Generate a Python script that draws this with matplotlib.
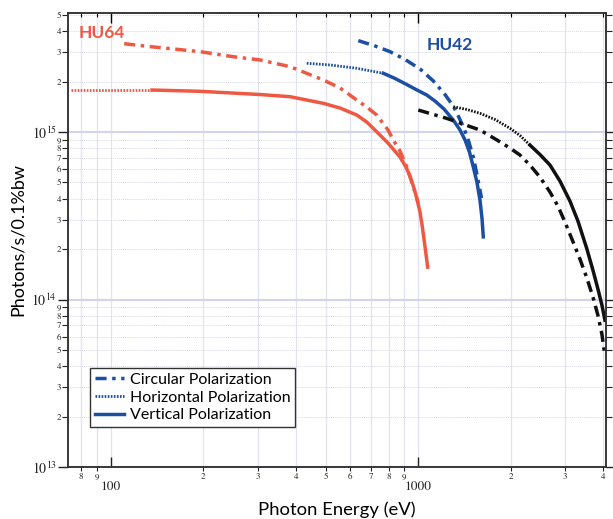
import matplotlib
matplotlib.use("Agg")
import matplotlib.pyplot as plt
from matplotlib.ticker import FixedLocator, FixedFormatter, NullFormatter

plt.rcParams["mathtext.fontset"] = "stix"

# HU64 undulator (red)
hu64_circ_E = [110.5, 134.2, 195.1, 249.8, 305.8, 382.7, 491, 556.6, 630.5, 679.7,
               732.3, 797.3, 829.4, 872, 917, 963, 1000]
hu64_circ_F = [3.37e15, 3.236e15, 3.02e15, 2.818e15, 2.694e15, 2.457e15, 2.046e15,
               1.832e15, 1.554e15, 1.411e15, 1.264e15, 1.028e15, 8.96e14, 7.70e14,
               6.20e14, 4.71e14, 3.75e14]
hu64_horiz_E = [74.3, 136.2]
hu64_horiz_F = [1.782e15, 1.782e15]
hu64_vert_E = [136.2, 195.1, 305.8, 382.7, 491, 556.6, 630.5, 679.7, 732.3, 797.3,
               872, 912, 939.7, 968, 990, 1013, 1032, 1051, 1073]
hu64_vert_F = [1.782e15, 1.751e15, 1.675e15, 1.626e15, 1.484e15, 1.391e15, 1.264e15,
               1.148e15, 1.004e15, 8.59e14, 7.09e14, 6.17e14, 5.46e14, 4.63e14,
               3.98e14, 3.32e14, 2.67e14, 2.08e14, 1.56e14]

# HU42 undulator (blue)
hu42_circ_E = [638.3, 723.3, 809.1, 905.1, 1013, 1119, 1221, 1299, 1349, 1401, 1454,
               1509, 1548, 1587, 1605]
hu42_circ_F = [3.513e15, 3.266e15, 3.02e15, 2.713e15, 2.38e15, 2.018e15, 1.675e15,
               1.43e15, 1.246e15, 1.076e15, 8.96e14, 7.12e14, 5.69e14, 4.50e14, 4.03e14]
hu42_horiz_E = [433.7, 516.4, 630.5, 769.6]
hu42_horiz_F = [2.574e15, 2.515e15, 2.403e15, 2.243e15]
hu42_vert_E = [769.6, 840.3, 917, 990, 1065, 1133, 1212, 1299, 1367, 1419, 1467, 1509,
               1551, 1587, 1611, 1627]
hu42_vert_F = [2.243e15, 2.088e15, 1.922e15, 1.782e15, 1.664e15, 1.532e15, 1.373e15,
               1.18e15, 1.028e15, 8.96e14, 7.59e14, 6.20e14, 5.03e14, 3.92e14,
               3.06e14, 2.367e14]

# third device (black)
blk_circ_E = [1000, 1237, 1587, 1803, 1987, 2141, 2307, 2487, 2681, 2846, 2999, 3160,
              3356, 3535, 3707, 3838, 3955, 4046]
blk_circ_F = [1.353e15, 1.207e15, 1.028e15, 8.96e14, 8.02e14, 7.29e14, 6.35e14,
              5.38e14, 4.38e14, 3.61e14, 2.90e14, 2.293e14, 1.741e14, 1.34e14,
              1.018e14, 8.05e13, 6.20e13, 4.58e13]
blk_horiz_E = [1299, 1440, 1587, 1776, 1987, 2141, 2307]
blk_horiz_F = [1.416e15, 1.363e15, 1.294e15, 1.188e15, 1.052e15, 9.53e14, 8.36e14]
blk_vert_E = [2307, 2487, 2681, 2888, 3113, 3305, 3528, 3698, 3847, 3955, 4046]
blk_vert_F = [8.36e14, 7.34e14, 6.35e14, 5.10e14, 3.87e14, 2.94e14, 2.025e14,
              1.496e14, 1.137e14, 9.25e13, 7.52e13]

RED = "#ef5843"
BLUE = "#1b4fa3"
BLACK = "#111111"

circ_style = dict(linestyle=(0, (3.2, 1.6, 1.0, 1.6)), linewidth=2.5)
horiz_style = dict(linestyle=(0, (0.6, 0.5)), linewidth=2.0)
vert_style = dict(linestyle="-", linewidth=2.5)

fig = plt.figure(figsize=(6.13, 5.19), dpi=100)
ax = fig.add_axes([0.111, 0.1002, 0.8775, 0.8748])
ax.set_xscale("log")
ax.set_yscale("log")
ax.set_xlim(72.6, 4076)
ax.set_ylim(1e13, 5.14e15)

for E, F, st, c in [
    (hu64_circ_E, hu64_circ_F, circ_style, RED),
    (hu64_horiz_E, hu64_horiz_F, horiz_style, RED),
    (hu64_vert_E, hu64_vert_F, vert_style, RED),
    (hu42_circ_E, hu42_circ_F, circ_style, BLUE),
    (hu42_horiz_E, hu42_horiz_F, horiz_style, BLUE),
    (hu42_vert_E, hu42_vert_F, vert_style, BLUE),
    (blk_circ_E, blk_circ_F, circ_style, BLACK),
    (blk_horiz_E, blk_horiz_F, horiz_style, BLACK),
    (blk_vert_E, blk_vert_F, vert_style, BLACK),
]:
    ax.plot(E, F, color=c, zorder=3, solid_joinstyle="round", **st)

# legend handles (blue)
ax.plot([], [], color=BLUE, label="Circular Polarization", **circ_style)
ax.plot([], [], color=BLUE, label="Horizontal Polarization", **horiz_style)
ax.plot([], [], color=BLUE, label="Vertical Polarization", **vert_style)
leg = ax.legend(loc="lower left", bbox_to_anchor=(0.041, 0.088), borderaxespad=0,
                fancybox=False, edgecolor="#333333", framealpha=1, handlelength=1.8,
                handletextpad=0.4, borderpad=0.3, labelspacing=0.22,
                prop={"family": "Lato", "size": 11.5})
leg.get_frame().set_linewidth(1.0)

# x ticks
x_major = [100, 1000]
x_minor = [80, 90, 200, 300, 400, 500, 600, 700, 800, 900, 2000, 3000, 4000]
x_minor_lbl = ["8", "9", "2", "3", "4", "5", "6", "7", "8", "9", "2", "3", "4"]
ax.xaxis.set_major_locator(FixedLocator(x_major))
ax.xaxis.set_major_formatter(FixedFormatter(["100", "1000"]))
ax.xaxis.set_minor_locator(FixedLocator(x_minor))
ax.xaxis.set_minor_formatter(FixedFormatter(x_minor_lbl))

# y ticks
y_major = [1e13, 1e14, 1e15]
y_minor = [m * 10.0 ** d for d in (13, 14, 15) for m in range(2, 10) if m * 10.0 ** d < 5.2e15]
y_minor_lbl = [str(m) for d in (13, 14, 15) for m in range(2, 10) if m * 10.0 ** d < 5.2e15]
ax.yaxis.set_major_locator(FixedLocator(y_major))
ax.yaxis.set_major_formatter(FixedFormatter([r"$10^{13}$", r"$10^{14}$", r"$10^{15}$"]))
ax.yaxis.set_minor_locator(FixedLocator(y_minor))
ax.yaxis.set_minor_formatter(FixedFormatter(y_minor_lbl))

ax.tick_params(axis="x", which="major", direction="in", length=7, width=1.0,
               pad=10, labelsize=9.5, top=False, colors="#222222")
ax.tick_params(axis="x", which="minor", direction="out", length=3, width=0.8,
               pad=1.5, labelsize=6.5, top=False, colors="#222222")
ax.tick_params(axis="y", which="major", direction="out", length=7, width=1.0,
               pad=1, labelsize=10, right=True, colors="#222222")
ax.tick_params(axis="y", which="minor", direction="out", length=4, width=0.8,
               pad=1, labelsize=6.5, right=True, colors="#222222")
for lbl in ax.get_xticklabels(which="both") + ax.get_yticklabels(which="both"):
    lbl.set_family("STIXGeneral")

# top ticks point inward
top = ax.twiny()
top.set_xscale("log")
top.set_xlim(ax.get_xlim())
top.xaxis.set_major_locator(FixedLocator(x_major))
top.xaxis.set_minor_locator(FixedLocator(x_minor))
top.xaxis.set_major_formatter(NullFormatter())
top.xaxis.set_minor_formatter(NullFormatter())
top.tick_params(axis="x", which="major", direction="in", length=7, width=1.0)
top.tick_params(axis="x", which="minor", direction="in", length=3, width=0.8)

# grid
ax.grid(True, axis="x", which="both", color="#e2e2f2", linewidth=0.9, linestyle="-")
ax.grid(True, axis="y", which="minor", color="#dadae6", linewidth=0.7, linestyle=(0, (1, 1)))
ax.grid(True, axis="y", which="major", color="#d4d4f0", linewidth=1.5, linestyle="-")
ax.set_axisbelow(True)

for sp in list(ax.spines.values()) + list(top.spines.values()):
    sp.set_color("#333333")
    sp.set_linewidth(1.1)

ax.text(78.3, 3.91e15, "HU64", color=RED, fontsize=12.5, fontweight="bold",
        family="Lato", va="center", ha="left")
ax.text(1067, 3.31e15, "HU42", color=BLUE, fontsize=12.5, fontweight="bold",
        family="Lato", va="center", ha="left")

ax.set_xlabel("Photon Energy (eV)", family="Lato", fontsize=13.3, labelpad=6)
ax.set_ylabel("Photons/s/0.1%bw", family="Lato", fontsize=13, labelpad=4)

fig.savefig("out.png", dpi=100)
